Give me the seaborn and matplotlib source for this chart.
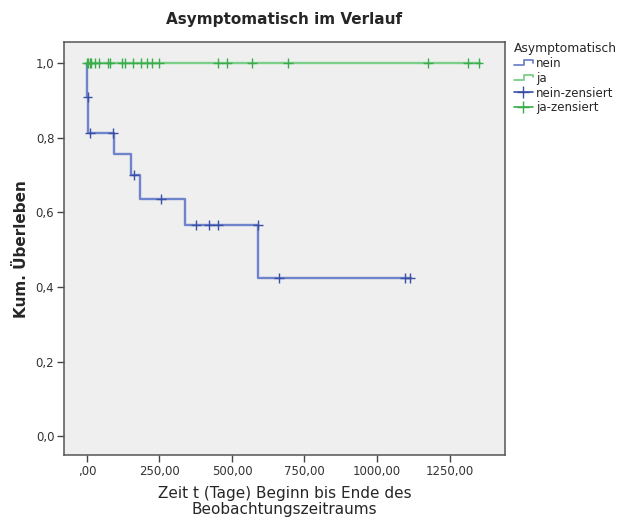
import numpy as np
import pandas as pd
import matplotlib
matplotlib.use("Agg")
import matplotlib.pyplot as plt
from matplotlib.lines import Line2D
from matplotlib.legend_handler import HandlerBase
import seaborn as sns

# Kaplan-Meier step curves (time in days, cumulative survival)
nein_times = [0, 1, 3, 94, 151, 182, 339, 591, 1117]
nein_surv = [1.0, 0.909, 0.813, 0.757, 0.699, 0.635, 0.565, 0.424, 0.424]
ja_times = [0, 1355]
ja_surv = [1.0, 1.0]

# censored observations
nein_cens_times = [2, 10, 91, 162, 255, 376, 421, 451, 591, 663, 1096, 1114]
nein_cens_surv = [0.909, 0.813, 0.813, 0.699, 0.635, 0.565, 0.565, 0.565, 0.565, 0.424, 0.424, 0.424]
ja_cens_times = [1, 3, 10, 14, 27, 40, 71, 81, 121, 131, 160, 186, 207, 224, 248,
                 452, 483, 569, 693, 1176, 1314, 1350]
ja_cens_surv = [1.0] * len(ja_cens_times)

x_ticks = [0, 250, 500, 750, 1000, 1250]
x_tick_labels = [",00", "250,00", "500,00", "750,00", "1000,00", "1250,00"]
y_ticks = [0.0, 0.2, 0.4, 0.6, 0.8, 1.0]
y_tick_labels = ["0,0", "0,2", "0,4", "0,6", "0,8", "1,0"]

BLUE_LINE = "#6f84cc"
BLUE_MARK = "#3a4fa6"
GREEN_LINE = "#7ccf88"
GREEN_MARK = "#39ad4c"

steps = pd.concat([
    pd.DataFrame({"t": nein_times, "s": nein_surv, "g": "nein"}),
    pd.DataFrame({"t": ja_times, "s": ja_surv, "g": "ja"}),
])
cens = pd.concat([
    pd.DataFrame({"t": nein_cens_times, "s": nein_cens_surv, "g": "nein-zensiert"}),
    pd.DataFrame({"t": ja_cens_times, "s": ja_cens_surv, "g": "ja-zensiert"}),
])

sns.set_style("white")
plt.rcParams["font.family"] = ["DejaVu Sans"]

fig = plt.figure(figsize=(6.24, 5.22), dpi=100)
ax = fig.add_axes([0.1026, 0.128, 0.7066, 0.7915])
ax.set_facecolor("#efefef")

sns.lineplot(data=steps, x="t", y="s", hue="g", palette={"nein": BLUE_LINE, "ja": GREEN_LINE},
             drawstyle="steps-post", linewidth=1.7, estimator=None, sort=False,
             legend=False, ax=ax)
sns.scatterplot(data=cens, x="t", y="s", hue="g",
                palette={"nein-zensiert": BLUE_MARK, "ja-zensiert": GREEN_MARK},
                marker="+", s=50, linewidth=1.0, legend=False, ax=ax, zorder=3)

ax.set_xlim(-79, 1441)
ax.set_ylim(-0.051, 1.056)
ax.set_xticks(x_ticks)
ax.set_xticklabels(x_tick_labels, fontsize=8.5, color="#333333")
ax.set_yticks(y_ticks)
ax.set_yticklabels(y_tick_labels, fontsize=8.5, color="#333333")
ax.tick_params(axis="both", direction="out", length=5, width=1, color="#444444", pad=2,
               bottom=True, left=True)
for sp in ax.spines.values():
    sp.set_color("#555555")
    sp.set_linewidth(1.1)

ax.set_xlabel("Zeit t (Tage) Beginn bis Ende des\nBeobachtungszeitraums", fontsize=11,
              linespacing=1.05, labelpad=6)
ax.set_ylabel("Kum. Überleben", fontsize=11, fontweight="bold", labelpad=5)
ax.set_title("Asymptomatisch im Verlauf", fontsize=11, fontweight="bold", pad=13)


class StepHandler(HandlerBase):
    def create_artists(self, legend, orig_handle, xdescent, ydescent, width, height,
                       fontsize, trans):
        x0, x1 = -xdescent, -xdescent + width
        xm = x0 + width * 0.55
        yl, yh = -ydescent + height * 0.2, -ydescent + height * 0.85
        ln = Line2D([x0, xm, xm, x1, x1], [yl, yl, yh, yh, yl * 0.5 + yh * 0.5],
                    color=orig_handle.get_color(), linewidth=1.3, transform=trans)
        return [ln]


h_nein = Line2D([], [], color=BLUE_LINE)
h_ja = Line2D([], [], color=GREEN_LINE)
h_nz = Line2D([], [], color=BLUE_MARK, marker="+", markersize=9, linewidth=1.2)
h_jz = Line2D([], [], color=GREEN_MARK, marker="+", markersize=9, linewidth=1.2)
leg = fig.legend([h_nein, h_ja, h_nz, h_jz], ["nein", "ja", "nein-zensiert", "ja-zensiert"],
                 handler_map={h_nein: StepHandler(), h_ja: StepHandler()},
                 title="Asymptomatisch", loc="upper left", bbox_to_anchor=(0.81, 0.935),
                 frameon=False, fontsize=8.5, title_fontsize=8.8, handlelength=1.6,
                 handletextpad=0.3, labelspacing=0.15, borderpad=0.2)
leg._legend_box.align = "left"

fig.savefig("out.png", dpi=100, facecolor="white")
